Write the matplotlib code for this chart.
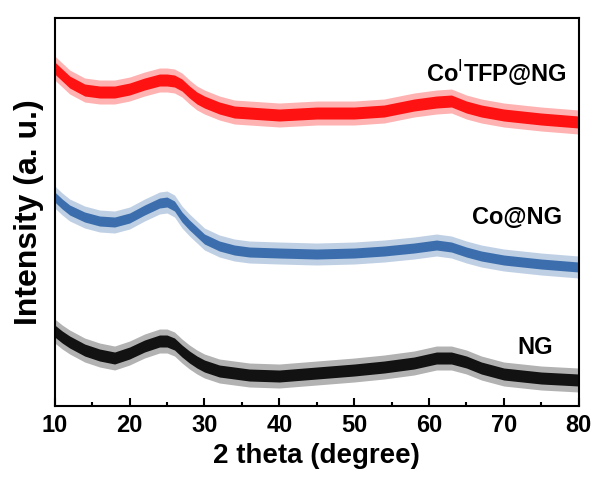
import numpy as np
import matplotlib

matplotlib.use("Agg")
import matplotlib.pyplot as plt
from matplotlib.ticker import MultipleLocator

plt.rcParams["font.family"] = ["Liberation Sans", "DejaVu Sans"]
plt.rcParams["mathtext.fontset"] = "custom"
plt.rcParams["mathtext.rm"] = "Liberation Sans"
plt.rcParams["mathtext.bf"] = "Liberation Sans:bold"

# 2 theta grid (degree)
two_theta = [10, 11, 12, 14, 16, 18, 20, 22, 24, 25, 26, 27, 28, 29, 30,
             32, 34, 36, 40, 45, 50, 54, 58, 61, 63, 65, 67, 70, 75, 80]

# stacked intensities (a. u.)
cotfp_ng = [338, 331, 324, 316, 314, 314, 317, 322, 326, 326, 325, 321, 314, 308, 304,
            298, 294, 293, 291, 293, 293, 295, 301, 304, 305, 299, 295, 291, 287, 284]
co_ng = [209, 202, 196, 189, 185, 184, 188, 196, 203, 204, 200, 189, 181, 174, 167,
         160, 156, 154, 153, 152, 153, 155, 158, 161, 159, 154, 150, 146, 142, 139]
ng = [75, 69, 64, 56, 51, 48, 53, 60, 65, 65, 62, 55, 49, 44, 40,
      35, 33, 31, 30, 33, 36, 39, 43, 48, 48, 44, 38, 32, 28, 26]

# noise band half-widths (a. u.)
spread_outer = [12, 11, 12]
spread_inner = [6, 5, 6]

names = [r"Co$^{\mathrm{I}}$TFP@NG", "Co@NG", "NG"]
colors = ["#ff0000", "#2e64a8", "#000000"]
label_pos = [(78.4, 333), (77.8, 189), (76.6, 59)]


def main():
    fig = plt.figure(figsize=(5.95, 4.78), dpi=100)
    ax = fig.add_axes([0.092, 0.1506, 0.8806, 0.8117])

    x = np.array(two_theta)
    for i, (ys, c) in enumerate(zip([cotfp_ng, co_ng, ng], colors)):
        y = np.array(ys, dtype=float)
        ax.fill_between(x, y - spread_outer[i], y + spread_outer[i],
                        color=c, alpha=0.3, linewidth=0)
        ax.fill_between(x, y - spread_inner[i], y + spread_inner[i],
                        color=c, alpha=0.9, linewidth=0)
        ax.text(label_pos[i][0], label_pos[i][1], names[i], ha="right",
                va="center", fontsize=17, fontweight="bold")

    ax.set_xlim(10, 80)
    ax.set_ylim(0, 388)
    ax.xaxis.set_major_locator(MultipleLocator(10))
    ax.xaxis.set_minor_locator(MultipleLocator(5))
    ax.set_yticks([])
    ax.tick_params(axis="x", which="major", direction="in", length=5.5, width=1.5,
                   labelsize=17, pad=6)
    ax.tick_params(axis="x", which="minor", direction="in", length=3, width=1.5)
    for lab in ax.get_xticklabels():
        lab.set_fontweight("bold")
    for sp in ax.spines.values():
        sp.set_linewidth(1.5)

    ax.set_xlabel("2 theta (degree)", fontsize=20, fontweight="bold", labelpad=4)
    ax.set_ylabel("Intensity (a. u.)", fontsize=23, fontweight="bold", labelpad=8)

    fig.savefig("out.png", dpi=100)
    plt.close(fig)


if __name__ == "__main__":
    main()
